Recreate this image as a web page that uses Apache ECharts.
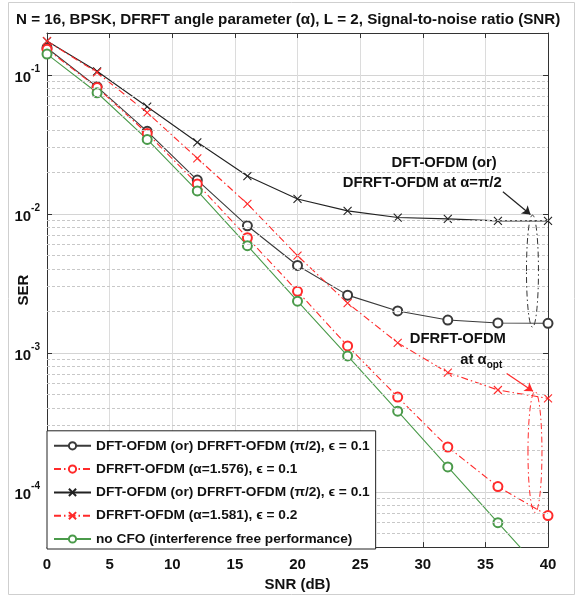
<!DOCTYPE html>
<html>
<head>
<meta charset="utf-8">
<script src="https://cdn.jsdelivr.net/npm/echarts@6/dist/echarts.min.js"></script>
<style>
  html, body { margin: 0; padding: 0; background: #fff; }
  #main { width: 579px; height: 597px; }
</style>
</head>
<body>
<div id="main"></div>
<script>
var chartDom = document.getElementById('main');
var myChart = echarts.init(chartDom, null, { renderer: 'canvas' });

// SNR (dB) sample points
var snr = [0, 4, 8, 12, 16, 20, 24, 28, 32, 36, 40];
// SER
var serDftEps01 = [0.156, 0.082, 0.0392, 0.0175, 0.0082, 0.00425, 0.0026, 0.0020, 0.00172, 0.00164, 0.00163];
var serFrftEps01 = [0.153, 0.081, 0.0379, 0.0164, 0.00674, 0.00277, 0.00112, 0.00048, 0.00021, 0.000109, 0.0000674];
var serDftEps02 = [0.175, 0.106, 0.059, 0.0327, 0.0187, 0.0128, 0.0105, 0.0094, 0.0092, 0.0089, 0.0089];
var serFrftEps02 = [0.175, 0.104, 0.0535, 0.0251, 0.0118, 0.0050, 0.00228, 0.00118, 0.00072, 0.00054, 0.00047];
var serNoCfo = [0.141, 0.0743, 0.0343, 0.0146, 0.0059, 0.00235, 0.00095, 0.00038, 0.000151, 0.000060, 0.000024];

var seriesNames = [
  'DFT-OFDM (or) DFRFT-OFDM (\u03c0/2), \u03f5 = 0.1',
  'DFRFT-OFDM (\u03b1=1.576), \u03f5 = 0.1',
  'DFT-OFDM (or) DFRFT-OFDM (\u03c0/2), \u03f5 = 0.1\u200b',
  'DFRFT-OFDM (\u03b1=1.581), \u03f5 = 0.2',
  'no CFO (interference free performance)'
];

var FONT = 'Arial, "Liberation Sans", sans-serif';
var BLACK = '#3a3a3a';
var RED = '#ff2a2a';
var GREEN = '#4a9a4a';
var DASHDOT = [7, 3, 1.5, 3];
var CROSS = 'path://M0,0L10,10M0,10L10,0';
var Y_MIN = 4e-5;
var Y_MAX = 0.2;

function pairs(ys) {
  return snr.map((x, i) => [x, ys[i]]);
}

// minor grid positions 2..9 x 10^k
var minorLines = [];
for (let k = -5; k <= -1; k++) {
  for (let m = 2; m <= 9; m++) {
    let v = m * Math.pow(10, k);
    if (v > Y_MIN && v < Y_MAX) minorLines.push([{ coord: [0, v] }, { coord: [40, v] }]);
  }
}

function lineSeries(name, ys, color, dash, symbol) {
  let cross = symbol == CROSS;
  return {
    type: 'line',
    name: name,
    data: pairs(ys),
    symbol: symbol,
    symbolSize: cross ? 8 : 9,
    showAllSymbol: true,
    z: 3,
    lineStyle: { color: color, width: 1.1, type: dash },
    itemStyle: {
      color: color,
      borderColor: color,
      borderWidth: 1.1,
    },
    emphasis: { disabled: true },
  };
}

var series = [
  {
    type: 'line',
    name: 'minor-grid',
    data: [],
    z: 1,
    silent: true,
    clip: false,
    markLine: {
      silent: true,
      symbol: ['none', 'none'],
      label: { show: false },
      lineStyle: { color: '#c8c8c8', type: [3, 2], width: 1 },
      emphasis: { disabled: true },
      data: minorLines,
    },
  },
  lineSeries(seriesNames[0], serDftEps01, BLACK, 'solid', 'emptyCircle'),
  lineSeries(seriesNames[1], serFrftEps01, RED, DASHDOT, 'emptyCircle'),
  lineSeries(seriesNames[2], serDftEps02, '#222', 'solid', CROSS),
  lineSeries(seriesNames[3], serFrftEps02, RED, DASHDOT, CROSS),
  lineSeries(seriesNames[4], serNoCfo, GREEN, 'solid', 'emptyCircle'),
  {
    // annotation arrows
    type: 'line',
    name: 'arrows',
    data: [],
    z: 4,
    markLine: {
      silent: true,
      symbol: ['none', 'arrow'],
      symbolSize: 8,
      label: { show: false },
      emphasis: { disabled: true },
      data: [
        [{ coord: [36.4, 0.0144], lineStyle: { color: '#222', width: 1.2, type: 'solid' } }, { coord: [38.6, 0.0099] }],
        [{ coord: [36.7, 0.00071], lineStyle: { color: RED, width: 1.2, type: 'solid' } }, { coord: [38.8, 0.00053] }],
      ],
    },
  },
];

var axisText = { fontFamily: FONT, fontSize: 15, fontWeight: 'bold', color: '#111' };

var option = {
  animation: false,
  textStyle: { fontFamily: FONT },
  title: {
    text: 'N = 16, BPSK, DFRFT angle parameter (\u03b1), L = 2, Signal-to-noise ratio (SNR)',
    left: 11,
    top: 7,
    textStyle: { fontFamily: FONT, fontSize: 15.2, fontWeight: 'bold', color: '#111' },
  },
  grid: { left: 47, right: 31, top: 33, bottom: 48, containLabel: false },
  legend: {
    orient: 'vertical',
    left: 47,
    bottom: 48,
    data: seriesNames,
    backgroundColor: '#fff',
    borderColor: '#222',
    borderWidth: 1,
    padding: [8, 6, 3, 6],
    itemWidth: 37,
    itemHeight: 9,
    itemGap: 9.3,
    selectedMode: false,
    textStyle: { fontFamily: FONT, fontSize: 13.7, fontWeight: 'bold', color: '#111' },
    z: 10,
  },
  xAxis: [
    {
      type: 'value',
      min: 0,
      max: 40,
      interval: 5,
      name: 'SNR (dB)',
      nameLocation: 'middle',
      nameGap: 27,
      nameTextStyle: axisText,
      axisLine: { show: true, onZero: false, lineStyle: { color: '#333', width: 1 } },
      axisTick: { show: true, inside: true, length: 5, lineStyle: { color: '#333' } },
      axisLabel: Object.assign({ margin: 10 }, axisText),
      splitLine: { show: true, lineStyle: { color: '#dcdcdc', width: 1 } },
    },
    {
      type: 'value',
      position: 'top',
      min: 0,
      max: 40,
      interval: 5,
      axisLine: { show: true, onZero: false, lineStyle: { color: '#333', width: 1 } },
      axisTick: { show: true, inside: true, length: 5, lineStyle: { color: '#333' } },
      axisLabel: { show: false },
      splitLine: { show: false },
    },
  ],
  yAxis: [
    {
      type: 'log',
      logBase: 10,
      min: Y_MIN,
      max: Y_MAX,
      name: 'SER',
      nameLocation: 'middle',
      nameGap: 16,
      nameMoveOverlap: false,
      nameTextStyle: axisText,
      axisLine: { show: true, onZero: false, lineStyle: { color: '#333', width: 1 } },
      axisTick: { show: true, inside: true, length: 5, lineStyle: { color: '#333' } },
      axisLabel: {
        margin: 7,
        formatter: function (v) {
          let lg = Math.log10(v);
          let e = Math.round(lg);
          if (Math.abs(lg - e) > 1e-6) return '';
          return '{b|10}{s|' + e + '}';
        },
        rich: {
          b: { fontFamily: FONT, fontSize: 15, fontWeight: 'bold', color: '#111', lineHeight: 22, verticalAlign: 'bottom' },
          s: { fontFamily: FONT, fontSize: 10, fontWeight: 'bold', color: '#111', lineHeight: 22, verticalAlign: 'top' },
        },
      },
      splitLine: { show: true, lineStyle: { color: '#d4d4d4', width: 1 } },
    },
    {
      type: 'log',
      logBase: 10,
      min: Y_MIN,
      max: Y_MAX,
      position: 'right',
      axisLine: { show: true, onZero: false, lineStyle: { color: '#333', width: 1 } },
      axisTick: { show: true, inside: true, length: 5, lineStyle: { color: '#333' } },
      axisLabel: { show: false },
      splitLine: { show: false },
    },
  ],
  series: series,
};

myChart.setOption(option);

// annotations placed through the chart's own coordinate conversion
function px(x, y) {
  return myChart.convertToPixel({ gridIndex: 0 }, [x, y]);
}
function ellipseAt(x, yTop, yBottom, rx, color) {
  let a = px(x, yTop);
  let b = px(x, yBottom);
  return {
    type: 'ellipse',
    silent: true,
    z: 5,
    shape: { cx: a[0], cy: (a[1] + b[1]) / 2, rx: rx, ry: (b[1] - a[1]) / 2 },
    style: { fill: null, stroke: color, lineWidth: 1, lineDash: [6, 3, 1.5, 3] },
  };
}
var t1 = px(35.9, 0.0231);
var t2 = px(36.3, 0.01665);
var t3 = px(32.8, 0.00126);
var t4 = px(33.0, 0.00089);
var boldText = { fontFamily: FONT, fontSize: 14.8, fontWeight: 'bold', fill: '#111' };

myChart.setOption({
  graphic: [
    {
      type: 'rect',
      silent: true,
      z: -1,
      shape: { x: 8.5, y: 2.5, width: 566, height: 592 },
      style: { fill: null, stroke: '#cfcfcf', lineWidth: 1 },
    },
    ellipseAt(38.76, 0.0098, 0.00153, 6, '#333'),
    ellipseAt(38.96, 0.000527, 0.000071, 7, RED),
    {
      type: 'text', silent: true, z: 6, x: t1[0], y: t1[1],
      style: Object.assign({ text: 'DFT-OFDM (or)', align: 'right', verticalAlign: 'middle' }, boldText),
    },
    {
      type: 'text', silent: true, z: 6, x: t2[0], y: t2[1],
      style: Object.assign({ text: 'DFRFT-OFDM at \u03b1=\u03c0/2', align: 'right', verticalAlign: 'middle' }, boldText),
    },
    {
      type: 'text', silent: true, z: 6, x: t3[0], y: t3[1],
      style: Object.assign({ text: 'DFRFT-OFDM', align: 'center', verticalAlign: 'middle' }, boldText),
    },
    {
      type: 'text', silent: true, z: 6, x: t4[0], y: t4[1],
      style: Object.assign({
        text: 'at \u03b1{sub|opt}', align: 'left', verticalAlign: 'middle',
        rich: { sub: { fontFamily: FONT, fontSize: 10, fontWeight: 'bold', fill: '#111', padding: [10, 0, 0, 0] } },
      }, boldText),
    },
  ],
});
</script>
</body>
</html>
